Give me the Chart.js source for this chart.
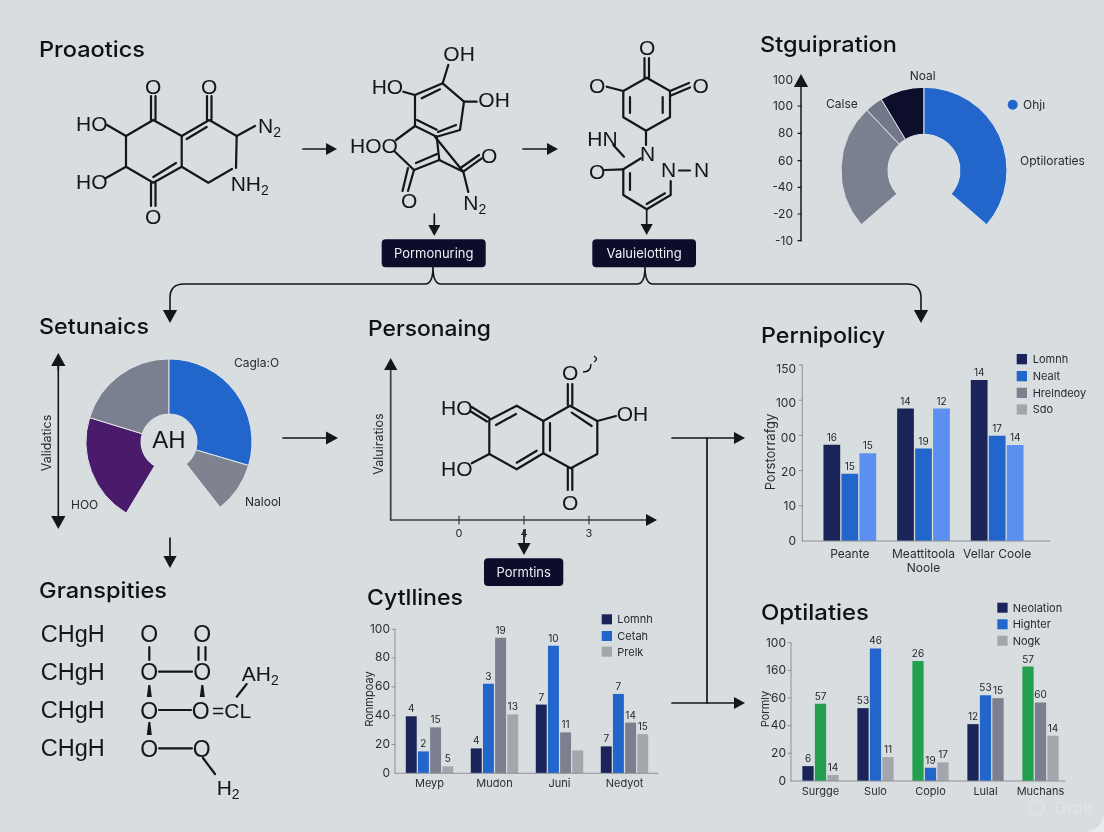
<!DOCTYPE html>
<html><head><meta charset="utf-8">
<script src="https://cdn.jsdelivr.net/npm/chart.js@4"></script>
<style>
html,body{margin:0;padding:0;background:#e9ecef;width:1104px;height:832px;overflow:hidden}
#panel{position:absolute;left:0;top:0;width:1104px;height:832px;background:#d8dde0;border-bottom-right-radius:20px}
canvas{position:absolute}
#ov{position:absolute;left:0;top:0}
</style></head><body>
<div id="panel"></div>
<canvas id="d1" width="200" height="200" style="width:200px;height:200px"></canvas>
<canvas id="d2" width="200" height="200" style="width:200px;height:200px"></canvas>
<canvas id="b1"></canvas><canvas id="b2"></canvas><canvas id="b3"></canvas>
<svg id="ov" width="1104" height="832" xmlns="http://www.w3.org/2000/svg"></svg>
<script>
// ---------- data ----------
const stgLabels = ['Calse','Small','Noal','Ohjı'];
const stgValues = [87.5,12.5,31,131];
const setLabels = ['HOO','Upper','Cagla:O','Nalool'];
const setValues = [76,73,106.5,35.5];

const perCats = ['Peante',['Meattitoola','Noole'],'Vellar Coole'];
const perTicks = ['0','10','20','00','100','150'];
const perA = [84,115.6,140.6];
const perB = [58.8,80.7,91.8];
const perC = [76.7,115.6,83.8];
const perLabA = ['16','14','14'];
const perLabB = ['15','19','17'];
const perLabC = ['15','12','14'];
const perLegend = ['Lomnh','Nealt','Hrelndeoy','Sdo'];

const cytCats = ['Meyp','Mudon','Juni','Nedyot'];
const cytTicks = ['0','20','40','60','80','100'];
const cytA = [39.4,17.1,47.5,18.5];
const cytB = [15,62,88.4,54.9];
const cytC = [31.7,94,28.2,35];
const cytD = [4.6,40.7,15.7,27];
const cytLabA = ['4','4','7','7'];
const cytLabB = ['2','3','10','7'];
const cytLabC = ['15','19','11','14'];
const cytLabD = ['5','13','','15'];
const cytLegend = ['Lomnh','Cetah','Prelk'];

const optCats = ['Surgge','Sulo','Coplo','Lulal','Muchans'];
const optTicks = ['0','20','40','60','160','100'];
const optA = [10.8,52.8,87,41.2,82.9];
const optB = [55.9,96.1,9.6,62.2,56.9];
const optC = [4.3,17.3,13.5,60,32.8];
const optLabA = ['6','53','26','12','57'];
const optLabB = ['57','46','19','53','60'];
const optLabC = ['14','11','17','15','14'];
const optLegend = ['Neolation','Highter','Nogk'];

const stgAxis = ['100','100','80','60','-40','-20','-10'];

// ---------- colours ----------
const NAVY='#1a2459',BLUE='#2266cc',SKY='#5b8ff0',GREY='#7c808e',LIGHT='#a3a7ad',GREEN='#22a050',INK='#14161c',
      PURPLE='#4a1a6b',SLATE='#7b8090',DARK='#0b0d2a';
const UI='Inter, sans-serif', MOL='"Liberation Sans", Arial, sans-serif';

// ---------- doughnuts ----------
function donut(id,vals,labels,colors,rot,circ,cut,cx,cy){
  const c=document.getElementById(id);
  const ch=new Chart(c,{type:'doughnut',data:{labels,datasets:[{data:vals,backgroundColor:colors,borderColor:'#dfe4e8',borderWidth:1}]},
    options:{responsive:false,animation:false,rotation:rot,circumference:circ,cutout:cut,radius:83,
      plugins:{legend:{display:false},tooltip:{enabled:false}}}});
  const a=ch.getDatasetMeta(0).data[0];
  c.style.left=(cx-a.x)+'px'; c.style.top=(cy-a.y)+'px';
}
donut('d1',stgValues,stgLabels,[SLATE,'#73778a','#0c0e2c',BLUE],229,262,'43.4%',924,170);
donut('d2',setValues,setLabels,[PURPLE,SLATE,BLUE,'#7f838f'],211,291,'33.7%',169,442);

// ---------- bar charts ----------
const valueLabels={id:'valueLabels',afterDatasetsDraw(ch){
  const x=ch.ctx; x.save(); x.font='10px '+UI; x.fillStyle='#22252e'; x.textAlign='center'; x.textBaseline='alphabetic';
  ch.data.datasets.forEach((d,i)=>ch.getDatasetMeta(i).data.forEach((b,j)=>{x.fillText(d.valueLabels[j],b.x,b.y-4);}));
  x.restore();
}};
function bars(id,area,cats,sets,max,step,ticks,cat,bar,tp,xFont,xPad){
  const pl=50,pr=6,pt=20,pb=44;
  const c=document.getElementById(id);
  const W=area[2]-area[0]+pl+pr,H=area[3]-area[1]+pt+pb;
  c.style.left=(area[0]-pl)+'px'; c.style.top=(area[1]-pt)+'px';
  c.width=W;c.height=H;c.style.width=W+'px';c.style.height=H+'px';
  new Chart(c,{type:'bar',plugins:[valueLabels],
    data:{labels:cats,datasets:sets.map(s=>({data:s.v,backgroundColor:s.c,valueLabels:s.l,categoryPercentage:cat,barPercentage:bar}))},
    options:{responsive:false,animation:false,layout:{padding:{left:0,right:pr,top:pt,bottom:0}},
      plugins:{legend:{display:false},tooltip:{enabled:false}},
      scales:{
        x:{grid:{display:false,drawTicks:false},border:{display:false},
           ticks:{padding:xPad,color:'#2a2d36',font:{family:UI,size:xFont},maxRotation:0,autoSkip:false},
           afterFit:s=>{s.height=pb;}},
        y:{min:0,max,grid:{display:false,drawTicks:false},border:{display:false},
           ticks:{stepSize:step,padding:tp,color:'#2a2d36',font:{family:UI,size:12},callback:(v,i)=>ticks[i]},
           afterFit:s=>{s.width=pl;}}
      }}});
}
bars('b1',[812.5,365,1033.5,541],perCats,[
  {v:perA,c:NAVY,l:perLabA},{v:perB,c:BLUE,l:perLabB},{v:perC,c:SKY,l:perLabC}],150,30,perTicks,.733,.93,17,12,6);
bars('b2',[396.5,629.3,656.9,773.3],cytCats,[
  {v:cytA,c:NAVY,l:cytLabA},{v:cytB,c:BLUE,l:cytLabB},{v:cytC,c:GREY,l:cytLabC},{v:cytD,c:LIGHT,l:cytLabD}],100,20,cytTicks,.748,.9,7,11,4);
bars('b3',[792.5,642.7,1067.5,781],optCats,[
  {v:optA,c:[NAVY,NAVY,GREEN,NAVY,GREEN],l:optLabA},
  {v:optB,c:[GREEN,BLUE,BLUE,BLUE,GREY],l:optLabB},
  {v:optC,c:[LIGHT,LIGHT,LIGHT,GREY,LIGHT],l:optLabC}],100,20,optTicks,.682,.9,7,11,4);

// ---------- overlay: headings, diagrams, connectors ----------
const svg=document.getElementById('ov'),NS='http://www.w3.org/2000/svg';
function el(n,a,t){const e=document.createElementNS(NS,n);for(const k in a)e.setAttribute(k,a[k]);if(t!==undefined)e.textContent=t;svg.appendChild(e);return e;}
function L(x1,y1,x2,y2,w=2.2,c=INK){el('line',{x1,y1,x2,y2,stroke:c,'stroke-width':w,'stroke-linecap':'round'});}
function P(pts,w=2.2){el('polyline',{points:pts.map(p=>p.join(',')).join(' '),fill:'none',stroke:INK,'stroke-width':w,'stroke-linejoin':'round','stroke-linecap':'round'});}
function T(x,y,s,o={}){return el('text',{x,y,'font-family':o.f||UI,'font-size':o.s||12,'font-weight':o.w||400,fill:o.c||'#262932','text-anchor':o.a||'start',...(o.tr?{transform:o.tr}:{}),...(o.len?{textLength:o.len,lengthAdjust:'spacingAndGlyphs'}:{})},s);}
function M(x,y,s,sub){const t=T(x,y,s,{f:MOL,s:21,c:INK});
  if(sub){const w=t.getComputedTextLength();T(x+w,y+4,sub.t,{f:MOL,s:14,c:INK});}}
function head(x,y,dx,dy,s,c=INK){const nx=-dy,ny=dx;el('polygon',{fill:c,points:`${x},${y} ${x-dx*s+nx*s*.55},${y-dy*s+ny*s*.55} ${x-dx*s-nx*s*.55},${y-dy*s-ny*s*.55}`});}
function A(x1,y1,x2,y2,s=11,w=1.7){const d=Math.hypot(x2-x1,y2-y1),dx=(x2-x1)/d,dy=(y2-y1)/d;L(x1,y1,x2-dx*s*.8,y2-dy*s*.8,w);head(x2,y2,dx,dy,s);}
function Title(x,y,s,len){T(x,y,s,{s:22,w:500,c:'#0f1116',len});}
function Box(x,y,w,h,s){el('rect',{x,y,width:w,height:h,rx:4,fill:DARK});T(x+w/2,y+h/2+4.5,s,{a:'middle',s:13,c:'#eef0f5'});}
function Rot(x,y,s,size){T(x,y,s,{a:'middle',s:size,tr:`rotate(-90 ${x} ${y})`});}

Title(39,57,'Proaotics',106);Title(760,52,'Stguipration',137);Title(39,334,'Setunaics',110);Title(368,336,'Personaing',123);
Title(761,343,'Pernipolicy',124);Title(761,620,'Optilaties',108);Title(367,605,'Cytllines',96);Title(39,598,'Granspities',128);

// molecule 1
P([[153.3,120],[181.7,136],[181.7,166.7],[153.3,182.7],[126,166.7],[126,136],[153.3,120]]);
P([[181.7,136],[209.3,120],[236.7,136],[236,168]]);P([[181.7,166.7],[208.3,182.7],[232,169]]);
L(186.7,139,206.7,127);L(153.3,177,176,163);
L(151,120,151,96);L(155.5,120,155.5,96);L(207,120,207,96);L(211.5,120,211.5,96);L(151,183,151,206);L(155.5,183,155.5,206);
M(145,93.5,'O');M(201,93.5,'O');M(145,224,'O');
M(76,131,'HO');M(76,189,'HO');L(107,125,126,136);L(106,178,126,166.7);
M(258,132.7,'N',{t:'2'});L(236.7,136,255,126);M(230.7,191,'NH',{t:'2'});
A(303,149,337,149);

// molecule 2
P([[442.7,83.3],[464,101.7],[460,130],[436.7,136.7],[415,126],[415,95],[442.7,83.3]]);
L(421.7,98.3,440,89.3);L(417,120,436.7,129.7);L(456,125,438,132);
L(442.7,83.3,448.3,65);M(443.3,60.7,'OH');M(371.7,94,'HO');L(403.3,91.7,415,95);M(478.3,106.7,'OH');L(464,101.7,476.7,101.7);
M(350,152.7,'HOO');L(415,126,396,140);L(395,151.7,414,170);L(414,170,439.3,160);L(416,163,437,154);L(439.3,160,436.7,136.7);
L(435,136.7,463.3,171.7);L(439.3,160,463.3,171.7);L(463.3,171.7,481.7,158.3);L(460.5,168,479,155);
M(481,163,'O');L(414,170,408,191);L(408,168,402.5,191);M(401,208,'O');M(463.3,210,'N',{t:'2'});L(463.3,171.7,468.3,192);
A(434.3,214,434.3,236);Box(381.7,239.3,104,28,'Pormonuring');
A(523,149,558,149);

// molecule 3
P([[646.7,77.7],[670,91],[670,117.3],[646,130.7],[623.3,117.3],[623.3,91],[646.7,77.7]]);
L(644.5,78,644.5,58);L(649,78,649,58);M(639,54.5,'O');L(606.7,86.7,623.3,91);M(589,92.5,'O');
L(670,91,689,83);L(671,95.5,690,87.5);M(692.5,92.5,'O');L(630,97,630,113);L(662.7,97,662.7,113);
L(646,130.7,646,145);M(640,160.7,'N');M(587.3,145.7,'HN');L(613.3,145,624,156.7);
L(641,158.3,623.3,169.3);M(589,178.5,'O');L(605,170,623.3,169.3);
P([[623.3,169.3],[623.3,195],[646.7,209.3],[670.7,195],[670.7,181]]);L(630,173,630,190);L(646.7,204,665,193.3);
M(661,177.3,'N');L(679,170.5,690,170.5);M(694,177.3,'N');
A(646.7,210,646.7,235);Box(592.3,239.3,103.7,28,'Valuielotting');

// connector
el('path',{d:'M170,312 V298 Q170,284 184,284 H425 Q433,284 433,267 Q433,284 441,284 H637 Q645,284 645,267 Q645,284 653,284 H907 Q921,284 921,298 V312',fill:'none',stroke:INK,'stroke-width':1.6});
head(170,323,0,1,13);head(921,323,0,1,13);

// stguipration axis and labels
A(801,240.7,801,74,13,1.5);
[106,133.3,160.7,187.3,214,240.7].forEach(y=>L(798,y,801,y,1.2));
[80,106,133.3,160.7,187.3,214,240.7].forEach((y,i)=>T(793,y+4,stgAxis[i],{a:'end',s:12}));
T(922.7,80,'Noal',{a:'middle',s:12});T(826,108,stgLabels[0],{s:12});
el('circle',{cx:1012.7,cy:104.7,r:5,fill:BLUE});T(1023,109,stgLabels[3],{s:12});T(1020,165,'Optiloraties',{s:12});

// setunaics labels
A(58.3,370,58.3,353,13,1.6);L(58.3,365,58.3,520,1.6);head(58.3,529,0,1,13);
Rot(51,443,'Validatics',12.5);
T(234,367,setLabels[2],{s:12});T(71,509,setLabels[0],{s:12});T(245,506,setLabels[3],{s:12});
T(169,448,'AH',{a:'middle',f:MOL,s:24,c:INK});
A(283,438,338,438,12);A(170,538,170,568,12);

// personaing diagram
L(390.7,520,390.7,368,1.7,'#3a3d46');head(390.7,358,0,-1,12);L(390.7,520,648,520,1.7,'#3a3d46');head(657,520,1,0,11);
[[459,'0'],[524,'4'],[589,'3']].forEach(([x,s])=>{L(x,516,x,524,1.2,'#3a3d46');T(x,537,s,{a:'middle',s:11});});
Rot(383,444,'Valuiratios',12.5);
P([[489.3,420],[516.7,405.7],[543.3,421],[543.3,453.3],[516.7,469.3],[489.3,454],[489.3,420]]);
P([[543.3,421],[570,405.7],[597.3,421],[597.3,454],[570.7,468.3],[543.3,453.3]]);
L(496,425,516,414);L(550,423,550,450.7);L(516.7,462.7,536.7,450.7);L(571.7,412.7,591.7,426);
L(567.8,405,567.8,384);L(572.3,405,572.3,384);M(562,380,'O');L(567.8,468,567.8,490);L(572.3,468,572.3,490);M(562,510,'O');
M(441,415,'HO');L(471.7,407,489.3,418);L(470,411,487,421.5);M(441,476,'HO');L(471.7,463.3,489.3,454);
M(616.7,421,'OH');L(597.3,421,616,416);
el('path',{d:'M583,372 Q591,372 591,364 M594,356 Q599,359 594,362',fill:'none',stroke:INK,'stroke-width':1.4});
A(524,530,524,555,12);Box(484,558.3,79.3,27.7,'Pormtins');

// right-hand connector
L(672,438,735,438,1.7);head(745,438,1,0,11);L(707,438,707,703,1.7);L(672,703,735,703,1.7);head(745,703,1,0,11);

// granspities diagram
[641.7,680,718,756].forEach(y=>T(40.7,y,'CHgH',{f:MOL,s:23,c:INK,len:64}));
[[149.3,633.3],[202.3,633.3],[149.3,671.7],[202.3,671.7],[149.3,710],[200.7,710],[149.3,748.3],[201.7,748.3]].forEach(([x,y])=>T(x,y+8.5,'O',{f:MOL,s:23,c:INK,a:'middle'}));
L(149.3,647,149.3,660);L(198.5,647,198.5,660);L(205.5,647,205.5,660);
L(159,671.7,192,671.7);L(159,710,191,710);L(159,748.3,192,748.3);
[[149.3,685,697],[202.3,685,697],[149.3,722,735]].forEach(([x,a,b])=>el('polygon',{fill:INK,points:`${x-1},${a} ${x+1},${a} ${x+2.5},${b} ${x-2.5},${b}`}));
M(212,718,'=CL');M(241.7,680.7,'AH',{t:'2'});L(236.7,696.7,246.7,684);M(216.7,795,'H',{t:'2'});L(203,758,215,774);

// bar chart axes and side labels
function axis(x0,x1,y0,y1,tickYs){L(x0,y1,x1,y1,1,'#8d9198');L(x0,y0,x0,y1,1,'#8d9198');tickYs.forEach(y=>L(x0-3,y,x0,y,1,'#8d9198'));}
axis(802.3,1050,365,541,[365,400.2,435.4,470.6,505.8]);
axis(395,658,629.3,773.3,[629.3,658,686.9,715.7,744.5]);
axis(791,1065,642.7,781,[642.7,670.4,698,725.7,753.3]);
Rot(775,452,'Porstorrafgy',13);Rot(373,699,'Ronmpoay',11);Rot(769,709,'Pormly',11);
function legend(x,tx,ys,h,names,colors){ys.forEach((y,i)=>{el('rect',{x,y,width:10.3,height:h,fill:colors[i]});T(tx,y+h/2+4,names[i],{s:11});});}
legend(1016.7,1032.7,[354,371,387.7,404.3],10.3,perLegend,[NAVY,BLUE,GREY,LIGHT]);
legend(601.7,617.3,[614.3,631,646.7],10,cytLegend,[NAVY,BLUE,LIGHT]);
legend(997.3,1012.7,[602.7,619.3,635.7],10,optLegend,[NAVY,BLUE,LIGHT]);

// watermark
el('circle',{cx:1037,cy:808,r:7,fill:'none',stroke:'#fff','stroke-opacity':.2,'stroke-width':2});
T(1054,814,'Grok',{s:17,w:600,c:'#ffffff'}).setAttribute('fill-opacity',.2);
</script>
</body></html>
